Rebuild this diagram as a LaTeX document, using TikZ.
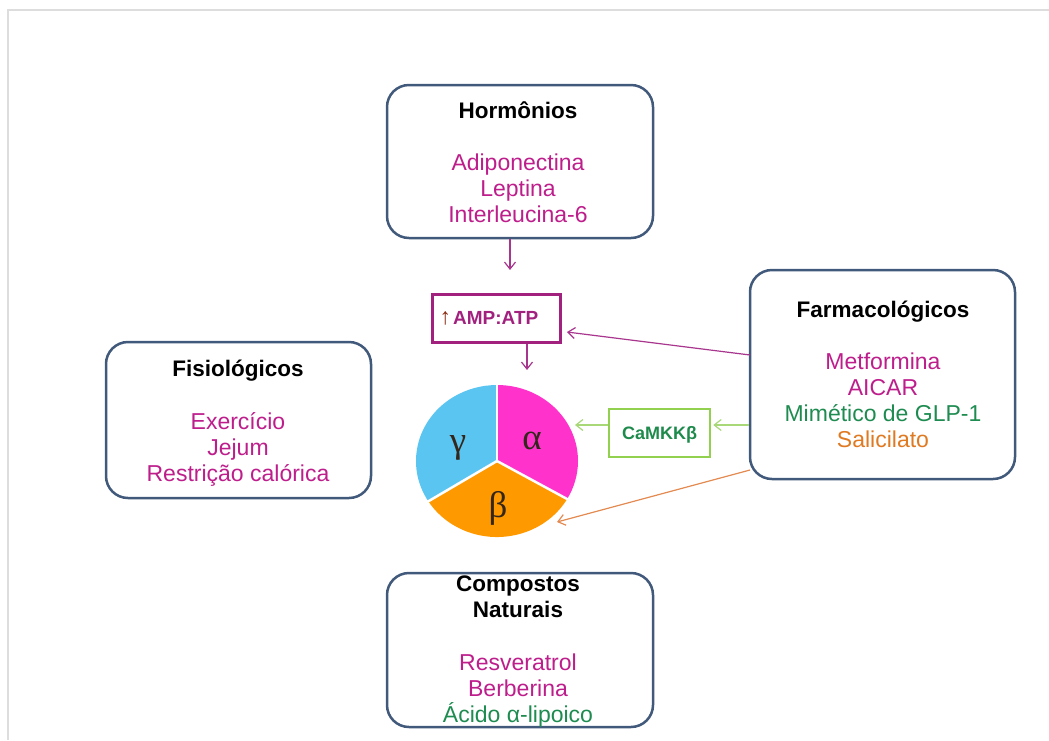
\documentclass[tikz,border=0pt]{standalone}
\usepackage{fontspec}
\setmainfont{Liberation Sans}
\newfontfamily\grkfont{Liberation Serif}
\usetikzlibrary{arrows.meta,shapes.geometric}
\definecolor{boxc}{HTML}{41597A}
\definecolor{framec}{HTML}{DDDDDD}
\definecolor{magt}{HTML}{BE1E8C}
\definecolor{grnt}{HTML}{1E8C50}
\definecolor{orgt}{HTML}{E07A22}
\definecolor{ampc}{HTML}{A2217F}
\definecolor{uparr}{HTML}{8B2A10}
\definecolor{camc}{HTML}{92D050}
\definecolor{camt}{HTML}{1E8A4C}
\definecolor{arrmag}{HTML}{A8358E}
\definecolor{arrgrn}{HTML}{A8D878}
\definecolor{arrorg}{HTML}{E38A50}
\definecolor{piea}{HTML}{FF33CC}
\definecolor{pieb}{HTML}{FF9900}
\definecolor{pieg}{HTML}{5BC5F2}
\definecolor{grkc}{HTML}{33261A}
\begin{document}
\begin{tikzpicture}[x=1pt,y=-1pt,
  bigbox/.style={draw=boxc, line width=2.5pt, rounded corners=22pt, fill=white, inner sep=0},
  ttl/.style={inner sep=0, anchor=base, font=\bfseries\fontsize{22.5}{26}\selectfont},
  itm/.style={inner sep=0, anchor=base, font=\fontsize{23}{26}\selectfont},
  conn/.style={line width=1.2pt, -{Straight Barb[length=7pt,width=11pt]}},
  grk/.style={inner sep=0, anchor=base, text=grkc, font=\grkfont\fontsize{37}{42}\selectfont}
]
\useasboundingbox (0,0) rectangle (1049,740);
\draw[framec, line width=1.5pt] (8,740) -- (8,10) -- (1049,10);

% boxes
\node[bigbox, minimum width=266, minimum height=153] (horm) at (520,161.5) {};
\node[bigbox, minimum width=265, minimum height=156] (fisio) at (238.5,420) {};
\node[bigbox, minimum width=265, minimum height=209] (farm) at (882.5,374.5) {};
\node[bigbox, minimum width=266, minimum height=154] (comp) at (520,650) {};

% Hormonios
\node[ttl] (hT) at (518,118) {Hormônios};
\node[itm, text=magt] (h1) at (518,170) {Adiponectina};
\node[itm, text=magt] (h2) at (518,196) {Leptina};
\node[itm, text=magt] (h3) at (518,222) {Interleucina-6};

% Fisiologicos
\node[ttl] (fT) at (238,376) {Fisiológicos};
\node[itm, text=magt] (f1) at (238,429) {Exercício};
\node[itm, text=magt] (f2) at (238,455) {Jejum};
\node[itm, text=magt] (f3) at (238,481) {Restrição calórica};

% Farmacologicos
\node[ttl] (pT) at (883,317) {Farmacológicos};
\node[itm, text=magt] (p1) at (883,369) {Metformina};
\node[itm, text=magt] (p2) at (883,395) {AICAR};
\node[itm, text=grnt] (p3) at (883,421) {Mimético de GLP-1};
\node[itm, text=orgt] (p4) at (883,447) {Salicilato};

% Compostos naturais
\node[ttl] (cT1) at (518,591) {Compostos};
\node[ttl] (cT2) at (518,617) {Naturais};
\node[itm, text=magt] (c1) at (518,670) {Resveratrol};
\node[itm, text=magt] (c2) at (518,696) {Berberina};
\node[itm, text=grnt] (c3) at (518,722) {Ácido α-lipoico};

% AMP:ATP box
\node[draw=ampc, line width=3pt, minimum width=128, minimum height=48, inner sep=0] (amp) at (496,318) {};
\node[inner sep=0, anchor=base, font=\fontsize{19}{22}\selectfont] (ampT) at (489,324)
  {{\color{uparr}\fontsize{23}{26}\selectfont ↑}\kern2pt{\bfseries\color{ampc}AMP:ATP}};

% CaMKKbeta box
\node[draw=camc, line width=2.5pt, minimum width=101, minimum height=48, inner sep=0] (cam) at (659.5,433) {};
\node[inner sep=0, anchor=base, text=camt, font=\bfseries\fontsize{18}{21}\selectfont] (camT) at (659.5,439) {CaMKKβ};

% pie
\node[ellipse, minimum width=162, minimum height=152, inner sep=0] (pie) at (497,461) {};
\begin{scope}[shift={(497,461)}, x=1pt, y=1pt]
  \fill[piea] (0,0) -- (0,76) arc[start angle=90, end angle=-30, x radius=81, y radius=76] -- cycle;
  \fill[pieb] (0,0) -- (-30:81 and 76) arc[start angle=-30, end angle=-148, x radius=81, y radius=76] -- cycle;
  \fill[pieg] (0,0) -- (-148:81 and 76) arc[start angle=-148, end angle=-270, x radius=81, y radius=76] -- cycle;
  \draw[white, line width=2.5pt] (0,0) -- (0,77);
  \draw[white, line width=2.5pt] (0,0) -- (-30:82 and 77);
  \draw[white, line width=2.5pt] (0,0) -- (-148:82 and 77);
\end{scope}
\node[grk] (ga) at (532,449) {α};
\node[grk] (gg) at (458,452) {γ};
\node[grk] (gb) at (498,517) {β};

% connector end points
\coordinate (hEnd) at (510,270);
\coordinate (pEnd) at (527,370);
\coordinate (fA) at (750,355);
\coordinate (aEnd) at (567,332);
\coordinate (gy) at (700,425);
\coordinate (gEnd) at (575,425);
\coordinate (fO) at (750,470);
\coordinate (oEnd) at (557,522);

% connectors
\draw[conn, arrmag] (horm.south -| hEnd) -- (hEnd);
\draw[conn, arrmag] (amp.south -| pEnd) -- (pEnd);
\draw[conn, arrmag] (fA) -- (aEnd);
\draw[conn, arrgrn] (farm.west |- gy) -- ([xshift=2pt]cam.east |- gy);
\draw[conn, arrgrn] (cam.west |- gy) -- (gEnd);
\draw[conn, arrorg] (fO) -- (oEnd);
\end{tikzpicture}
\end{document}
